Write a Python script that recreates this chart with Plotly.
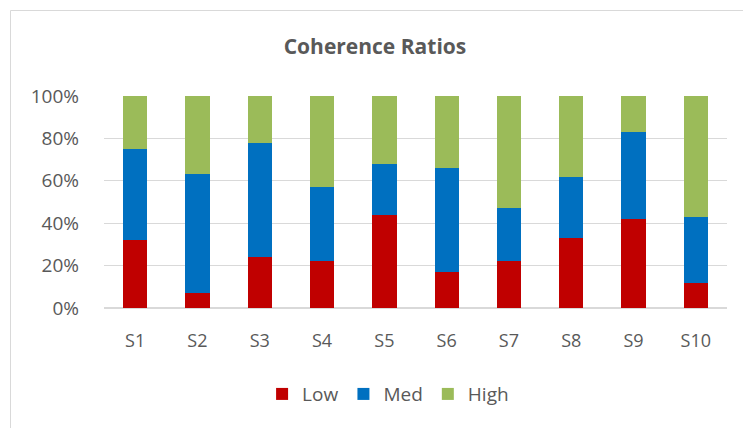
import plotly.graph_objects as go

categories = ["S1", "S2", "S3", "S4", "S5", "S6", "S7", "S8", "S9", "S10"]
low = [32, 7, 24, 22, 44, 17, 22, 33, 42, 12]
med = [43, 56, 54, 35, 24, 49, 25, 29, 41, 31]
high = [25, 37, 22, 43, 32, 34, 53, 38, 17, 57]
tick_vals = [0, 20, 40, 60, 80, 100]
tick_text = ["0%", "20%", "40%", "60%", "80%", "100%"]

font_fam = "Open Sans, Liberation Sans, sans-serif"
gray = "#595959"

# page body has an 8px margin, so the figure is sized/offset to compensate
W, H = 743, 420
L, R, T, B = 96, 24, 88, 120
pw, ph = W - L - R, H - T - B

fig = go.Figure()
for name, vals, col in [("Low", low, "#C00000"), ("Med", med, "#0070C0"), ("High", high, "#9BBB59")]:
    fig.add_trace(go.Bar(x=categories, y=vals, name=name, marker=dict(color=col, line=dict(width=0)),
                         hoverinfo="x+y+name"))

fig.update_layout(
    barmode="stack",
    bargap=0.61,
    width=W, height=H,
    margin=dict(l=L, r=R, t=T, b=B),
    paper_bgcolor="white", plot_bgcolor="white",
    font=dict(family=font_fam, color=gray, size=18),
    title=dict(text="<b>Coherence Ratios</b>", x=(367 - 0) / W, xanchor="center",
               y=1 - 39 / H, yanchor="middle",
               font=dict(size=21, color=gray, family=font_fam)),
    showlegend=True,
    legend=dict(orientation="h", x=0.456, xanchor="center", y=-0.406, yanchor="middle",
                font=dict(size=19, color=gray), itemwidth=30, traceorder="normal"),
    xaxis=dict(showgrid=False, showline=False, ticks="", ticklabelstandoff=20,
               tickfont=dict(size=18, color=gray)),
    yaxis=dict(range=[0, 100], tickvals=tick_vals, ticktext=tick_text, showgrid=True,
               gridcolor="#D9D9D9", gridwidth=1, zeroline=True, zerolinecolor="#D9D9D9",
               showline=False, ticks="", ticklabelstandoff=24,
               tickfont=dict(size=19, color=gray)),
    shapes=[dict(type="rect", xref="paper", yref="paper",
                 x0=(2.5 - L) / pw, x1=(770 - L) / pw,
                 y0=(ph - 450) / ph, y1=(ph + T - 2.5) / ph,
                 line=dict(color="#D9D9D9", width=1), fillcolor="rgba(0,0,0,0)", layer="below")],
)

fig.write_html("out.html")
